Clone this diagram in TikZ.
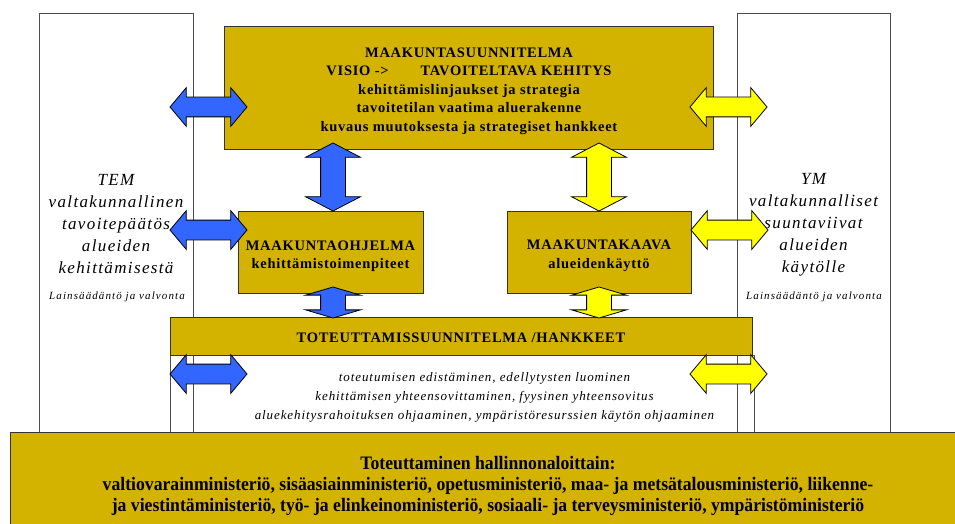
\documentclass[tikz,border=0pt]{standalone}
\usepackage{fontspec}
\setmainfont{Liberation Serif}
\newfontfamily\kapeafont[FakeStretch=0.93]{Liberation Serif}
\usetikzlibrary{shapes.arrows}

\definecolor{kulta}{RGB}{212,178,0}
\definecolor{sininen}{RGB}{51,102,255}
\definecolor{keltainen}{RGB}{255,255,0}

\tikzset{
  laatikko/.style={draw=black!80, fill=kulta, line width=1pt, inner sep=0pt},
  laatikkoteksti/.style={align=center,
    font=\fontsize{14.5}{18.5}\selectfont\bfseries\addfontfeature{LetterSpace=5}},
  paneeli/.style={draw=black!70, fill=white, line width=0.8pt, inner sep=0pt},
  paneeliteksti/.style={align=center,
    font=\fontsize{17}{22}\selectfont\itshape\addfontfeature{LetterSpace=8}},
  pieniteksti/.style={align=center,
    font=\fontsize{11}{13}\selectfont\itshape\addfontfeature{LetterSpace=10}},
  vaakanuoli/.style={double arrow, draw=black, line width=0.8pt, inner xsep=0pt,
    inner ysep=9.5pt, double arrow head extend=9.5pt, minimum height=77pt,
    double arrow tip angle=100},
  pystynuoli/.style={double arrow, rotate=90, draw=black, line width=0.8pt,
    inner xsep=0pt, inner ysep=12pt, double arrow head extend=15pt,
    minimum height=68pt, double arrow tip angle=125},
  lyhytnuoli/.style={pystynuoli, minimum height=31pt, double arrow tip angle=147}
}

\begin{document}
\begin{tikzpicture}[x=1pt, y=-1pt]
\useasboundingbox (0,0) rectangle (955,524);

% Draw ministry panels
\node[paneeli, minimum width=154pt, minimum height=419pt] (tem) at (116,222.5) {};
\node[paneeli, minimum width=153pt, minimum height=419pt] (ym) at (813.5,222.5) {};

\node[paneeliteksti] (temteksti) at (116,224)
  {TEM\\ valtakunnallinen\\ tavoitepäätös\\ alueiden\\ kehittämisestä};
\node[pieniteksti] (temlaki) at (117,297) {Lainsäädäntö ja valvonta};
\node[paneeliteksti] (ymteksti) at (813.5,225)
  {YM\\ valtakunnalliset\\ suuntaviivat\\ alueiden\\ käytölle};
\node[pieniteksti] (ymlaki) at (814,297) {Lainsäädäntö ja valvonta};

% Draw plan boxes
\node[laatikko, minimum width=489pt, minimum height=122pt] (suunnitelma) at (468.5,88) {};
\node[laatikkoteksti] (suunnitelmateksti) at (469,91)
  {MAAKUNTASUUNNITELMA\\ VISIO ->\hspace{2.2em}TAVOITELTAVA KEHITYS\\
   kehittämislinjaukset ja strategia\\ tavoitetilan vaatima aluerakenne\\
   kuvaus muutoksesta ja strategiset hankkeet};
\node[laatikko, minimum width=185pt, minimum height=82pt] (ohjelma) at (330.5,252) {};
\node[laatikkoteksti] (ohjelmateksti) at (330.5,256)
  {MAAKUNTAOHJELMA\\ kehittämistoimenpiteet};
\node[laatikko, minimum width=184pt, minimum height=82pt] (kaava) at (599,252) {};
\node[laatikkoteksti] (kaavateksti) at (599,256)
  {MAAKUNTAKAAVA\\ alueidenkäyttö};

% Draw implementation bar and tasks
\node[draw=black!70, line width=0.8pt, minimum width=584pt, minimum height=77pt,
  inner sep=0pt] (tehtavat) at (462,393.5) {};
\node[paneeliteksti, font=\fontsize{13}{19}\selectfont\itshape\addfontfeature{LetterSpace=7}]
  (tehtavateksti) at (484.5,397)
  {toteutumisen edistäminen, edellytysten luominen\\
   kehittämisen yhteensovittaminen, fyysinen yhteensovitus\\
   aluekehitysrahoituksen ohjaaminen, ympäristöresurssien käytön ohjaaminen};
\node[laatikko, minimum width=582pt, minimum height=38pt] (toteutus) at (461,336) {};
\node[laatikkoteksti] (toteutusteksti) at (461,338) {TOTEUTTAMISSUUNNITELMA /HANKKEET};

% Draw bottom box
\node[laatikko, minimum width=956pt, minimum height=100pt, anchor=north west] (hallinto) at (10,432) {};
\node[align=center, font=\kapeafont\fontsize{19}{21}\selectfont\bfseries] (hallintoteksti) at (488,486)
  {Toteuttaminen hallinnonaloittain:\\
   valtiovarainministeriö, sisäasiainministeriö, opetusministeriö, maa- ja metsätalousministeriö, liikenne-\\
   ja viestintäministeriö, työ- ja elinkeinoministeriö, sosiaali- ja terveysministeriö, ympäristöministeriö};

% Draw block arrows
\node[vaakanuoli, fill=sininen] (n1) at (208.5,107) {};
\node[vaakanuoli, fill=sininen] (n2) at (208.5,230) {};
\node[vaakanuoli, fill=sininen] (n3) at (208.5,374) {};
\node[vaakanuoli, fill=keltainen] (n4) at (728.5,107) {};
\node[vaakanuoli, fill=keltainen] (n5) at (729.5,230) {};
\node[vaakanuoli, fill=keltainen] (n6) at (728.5,374) {};
\node[pystynuoli, fill=sininen] (n7) at (333,177) {};
\node[pystynuoli, fill=keltainen] (n8) at (599,177) {};
\node[lyhytnuoli, fill=sininen] (n9) at (333,302.5) {};
\node[lyhytnuoli, fill=keltainen] (n10) at (599,302.5) {};

\end{tikzpicture}
\end{document}
